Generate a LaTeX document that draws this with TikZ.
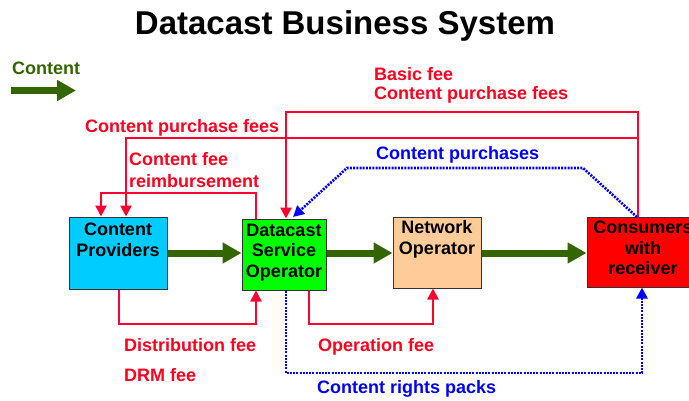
\documentclass[tikz,border=0pt]{standalone}
\usepackage{fontspec}
\setmainfont{Liberation Sans}
\usetikzlibrary{arrows.meta}

\definecolor{flowgreen}{HTML}{336600}
\definecolor{feered}{HTML}{FF0030}
\definecolor{txtred}{HTML}{FF0020}
\definecolor{rightsblue}{HTML}{0000FF}
\definecolor{cpcyan}{HTML}{00CCFF}
\definecolor{dsogreen}{HTML}{00FF00}
\definecolor{notan}{HTML}{FFCC99}
\definecolor{conred}{HTML}{FF0000}

\tikzset{
  box/.style={draw=black!80, line width=1pt, inner sep=0pt},
  boxtext/.style={font=\bfseries\fontsize{18}{20.5}\selectfont, align=center, inner sep=0pt, anchor=base},
  lbl/.style={font=\bfseries\fontsize{18}{19}\selectfont, inner sep=0pt, anchor=base west, align=left},
  flow/.style={draw=flowgreen, line width=7pt, -{Triangle[length=19pt,width=20pt]}},
  fee/.style={draw=feered, line width=2.5pt, -{Triangle[length=11pt,width=11pt]}},
  rights/.style={draw=rightsblue, line width=2.6pt, dash pattern=on 2pt off 1.2pt, -{Triangle[length=11pt,width=11pt]}},
}

\begin{document}
\begin{tikzpicture}[x=1pt,y=-1pt]
\useasboundingbox (0,0) rectangle (689,400);

% title
\node[font=\bfseries\fontsize{33}{36}\selectfont, inner sep=0pt, anchor=base] (title) at (345,34) {Datacast Business System};

% legend
\node[lbl, text=flowgreen] (legend) at (12,74) {Content};
\coordinate (lgA) at (11,90.5);
\coordinate (lgB) at (76,90.5);
\draw[flow] (lgA) -- (lgB);

% business parties
\node[box, fill=cpcyan, minimum width=98pt, minimum height=72pt] (cp) at (118,253) {};
\node[box, fill=dsogreen, minimum width=84pt, minimum height=71pt] (dso) at (284,254.5) {};
\node[box, fill=notan, minimum width=88pt, minimum height=71pt] (no) at (437,252.5) {};
\node[box, fill=conred, minimum width=112pt, minimum height=70pt] (con) at (643,252) {};

% box captions, placed by the baseline of their last line
\node[boxtext] (cpt) at (118,256) {Content\\Providers};
\node[boxtext] (dsot) at (284,277) {Datacast\\Service\\Operator};
\node[boxtext] (not) at (437,254) {Network\\Operator};
\node[boxtext] (cont) at (643,274.5) {Consumers\\with\\receiver};

% content flow
\draw[flow] (cp.east |- 0,253) -- (dso.west |- 0,253);
\draw[flow] (dso.east |- 0,253) -- (no.west |- 0,253);
\draw[flow] (no.east |- 0,253) -- (con.west |- 0,253);

% fees paid by consumers
\coordinate (bfA) at (638,112);
\coordinate (bfB) at (286,112);
\draw[fee] (con.north -| bfA) -- (bfA) -- (bfB) -- (dso.north -| bfB);
\coordinate (cpA) at (638,138);
\coordinate (cpB) at (126,138);
\draw[fee] (cpA) -- (cpB) -- (cp.north -| cpB);
\node[lbl, text=txtred] (bfl) at (374,99) {Basic fee\\Content purchase fees};
\node[lbl, text=txtred] (cpl) at (85,132) {Content purchase fees};

% reimbursement to content providers
\coordinate (rbA) at (256,193);
\coordinate (rbB) at (101,193);
\draw[fee] (dso.north -| rbA) -- (rbA) -- (rbB) -- (cp.north -| rbB);
\node[lbl, text=txtred, font=\bfseries\fontsize{18}{22}\selectfont] (rbl) at (129,187) {Content fee\\reimbursement};

% distribution and operation fees
\coordinate (dfA) at (119,324);
\coordinate (dfB) at (256,324);
\draw[fee] (cp.south -| dfA) -- (dfA) -- (dfB) -- (dso.south -| dfB);
\node[lbl, text=txtred] (dfl) at (124,351) {Distribution fee};
\node[lbl, text=txtred] (drml) at (124,381) {DRM fee};
\coordinate (ofA) at (309,324);
\coordinate (ofB) at (433,324);
\draw[fee] (dso.south -| ofA) -- (ofA) -- (ofB) -- (no.south -| ofB);
\node[lbl, text=txtred] (ofl) at (318,351) {Operation fee};

% content purchases and rights packs
\coordinate (pcA) at (637,217);
\coordinate (pcB) at (583,168);
\coordinate (pcC) at (347,168);
\coordinate (pcD) at (293,217);
\draw[rights] (pcA) -- (pcB) -- (pcC) -- (pcD);
\node[lbl, text=rightsblue] (pcl) at (376,159) {Content purchases};
\coordinate (rpA) at (286,373);
\coordinate (rpB) at (642,373);
\draw[rights] (dso.south -| rpA) -- (rpA) -- (rpB) -- (con.south -| rpB);
\node[lbl, text=rightsblue] (rpl) at (317,393) {Content rights packs};
\end{tikzpicture}
\end{document}
